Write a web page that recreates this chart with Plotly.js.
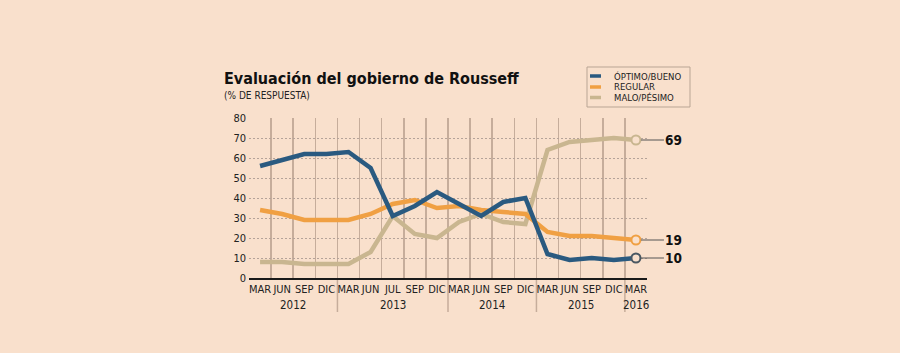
<!DOCTYPE html>
<html>
<head>
<meta charset="utf-8">
<script src="https://cdn.plot.ly/plotly-3.0.1.min.js"></script>
<style>
html,body{margin:0;padding:0;background:#f9e0cc;}
#chart{width:900px;height:353px;}
</style>
</head>
<body>
<div id="chart"></div>
<script>
// ---- data ----
var months = ["MAR","JUN","SEP","DIC","MAR","JUN","JUL","SEP","DIC","MAR","JUN","SEP","DIC","MAR","JUN","SEP","DIC","MAR"];
var years  = ["2012","2012","2012","2012","2013","2013","2013","2013","2013","2014","2014","2014","2014","2015","2015","2015","2015","2016"];
var seriesNames = ["ÓPTIMO/BUENO","REGULAR","MALO/PÉSIMO"];
var bueno   = [56,59,62,62,63,55,31,36,43,37,31,38,40,12,9,10,9,10];
var regular = [34,32,29,29,29,32,37,39,35,36,34,33,32,23,21,21,20,19];
var malo    = [8,8,7,7,7,13,31,22,20,28,32,28,27,64,68,69,70,69];
var yTicks  = [0,10,20,30,40,50,60,70,80];

// ---- styling ----
var FONT = "Tahoma, 'DejaVu Sans Condensed', 'DejaVu Sans', sans-serif";
var BG = "#f9e0cc";
var colors = ["#2a5a80","#f0a043","#c9b690"];
var markerLine = ["#4b5862","#f0a043","#c9b690"];
var seriesData = [bueno, regular, malo];

var L = 249, R = 647, T = 118, B = 278;
function px(x){ return (x - L) / (R - L); }
function py(y){ return (B - y) / (B - T); }

var idx = months.map(function(_, i){ return i; });
var last = idx.length - 1;

var traces = [];
[2,1,0].forEach(function(s){
  traces.push({
    x: idx, y: seriesData[s], type: "scatter", mode: "lines",
    name: seriesNames[s], showlegend: false,
    line: {color: colors[s], width: 4.5},
    hoverinfo: "skip"
  });
});
[2,1,0].forEach(function(s){
  traces.push({
    x: [idx[last]], y: [seriesData[s][last]], type: "scatter", mode: "markers",
    showlegend: false, hoverinfo: "skip",
    marker: {symbol: "circle", size: 9, color: BG, line: {color: markerLine[s], width: 2}}
  });
});

var annotations = [];
var shapes = [];

// end value labels
seriesData.forEach(function(d, s){
  annotations.push({
    x: idx[last], y: d[last], xref: "x", yref: "y",
    text: "<b>" + d[last] + "</b>",
    showarrow: true, arrowhead: 0, arrowwidth: 1, arrowcolor: "#555",
    ax: 38, ay: 0, standoff: 5,
    font: {family: FONT, size: 13.5, color: "#111"}
  });
});

// year labels and separators
var groups = [];
years.forEach(function(yv, i){
  if (!groups.length || groups[groups.length-1].year !== yv) groups.push({year: yv, start: i, end: i});
  else groups[groups.length-1].end = i;
});
groups.forEach(function(g, gi){
  annotations.push({
    x: (g.start + g.end) / 2, y: py(305), xref: "x", yref: "paper",
    text: g.year, showarrow: false, yanchor: "middle",
    font: {family: FONT, size: 11.5, color: "#222"}
  });
  if (gi > 0) {
    shapes.push({
      type: "line", xref: "x", yref: "paper",
      x0: g.start - 0.5, x1: g.start - 0.5, y0: 0, y1: py(312),
      line: {color: "#c6ad9b", width: 1.5}, layer: "below"
    });
  }
});

// title + subtitle
annotations.push({
  xref: "paper", yref: "paper", x: px(222), y: py(78), xanchor: "left", yanchor: "middle",
  text: "<b>Evaluación del gobierno de Rousseff</b>", showarrow: false,
  font: {family: FONT, size: 16, color: "#111"}
});
annotations.push({
  xref: "paper", yref: "paper", x: px(222), y: py(95), xanchor: "left", yanchor: "middle",
  text: "(% DE RESPUESTA)", showarrow: false,
  font: {family: FONT, size: 10, color: "#222"}
});

// custom legend
shapes.push({
  type: "rect", xref: "paper", yref: "paper",
  x0: px(587), x1: px(690), y0: py(107), y1: py(67),
  line: {color: "#b9a594", width: 1}, fillcolor: "rgba(0,0,0,0)"
});
var legY = [76, 87, 97.5];
seriesNames.forEach(function(n, s){
  shapes.push({
    type: "line", xref: "paper", yref: "paper",
    x0: px(590), x1: px(601), y0: py(legY[s]), y1: py(legY[s]),
    line: {color: colors[s], width: 3.5}
  });
  annotations.push({
    xref: "paper", yref: "paper", x: px(612), y: py(legY[s]), xanchor: "left", yanchor: "middle",
    text: n, showarrow: false,
    font: {family: FONT, size: 9.5, color: "#222"}
  });
});

var minorVals = idx.map(function(i){ return i + 0.5; });

var layout = {
  width: 900, height: 353,
  paper_bgcolor: BG, plot_bgcolor: BG,
  margin: {l: L, r: 900 - R, t: T, b: 353 - B, pad: 0},
  showlegend: false,
  xaxis: {
    range: [-0.5, idx.length - 0.5],
    tickmode: "array", tickvals: idx, ticktext: months,
    tickangle: 0,
    showgrid: false, zeroline: false,
    showline: true, linecolor: "#1a1a1a", linewidth: 1.5,
    ticks: "", ticklen: 0,
    tickfont: {family: FONT, size: 11, color: "#222"},
    minor: {tickmode: "array", tickvals: minorVals, showgrid: true, gridcolor: "#c6ad9b", gridwidth: 1.5, ticks: ""},
    fixedrange: true
  },
  yaxis: {
    range: [0, 80], tickmode: "array", tickvals: yTicks,
    showgrid: true, gridcolor: "#b5a399", gridwidth: 1, griddash: "2px,2px",
    zeroline: false, showline: false, ticks: "",
    tickfont: {family: FONT, size: 11, color: "#222"},
    ticklabelstandoff: 2,
    fixedrange: true
  },
  annotations: annotations,
  shapes: shapes
};

Plotly.newPlot("chart", traces, layout, {displayModeBar: false, staticPlot: true});
</script>
</body>
</html>
